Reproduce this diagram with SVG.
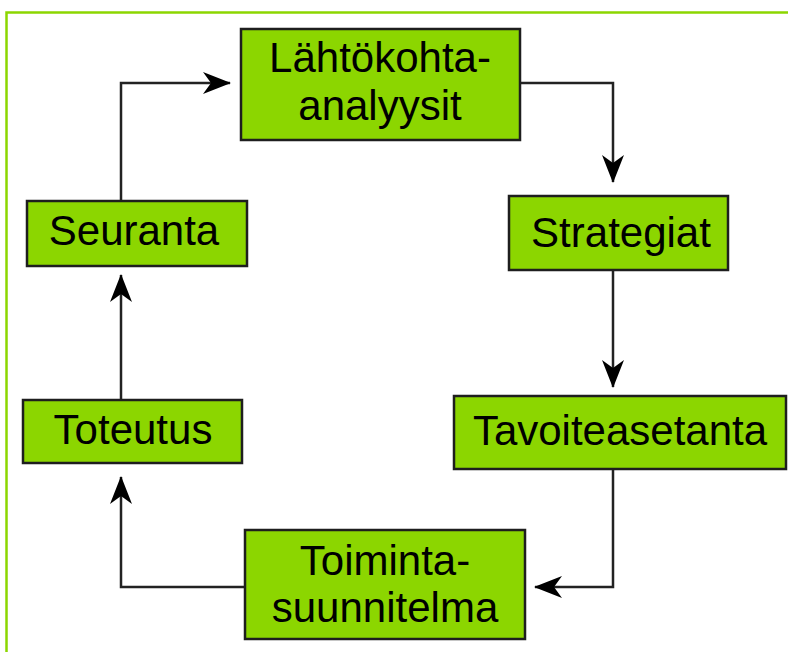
<svg xmlns="http://www.w3.org/2000/svg" width="788" height="652" viewBox="0 0 788 652">
<style>
.box{fill:#8cd600;stroke:#1e1e1e;stroke-width:2.5}
.lbl{font-family:"Liberation Sans",Arial,sans-serif;font-size:42px;fill:#000;text-anchor:middle}
.con{fill:none;stroke:#222;stroke-width:2.5}
</style>
<defs>
<marker id="arr" markerUnits="userSpaceOnUse" viewBox="0 0 28 22" refX="27" refY="11" markerWidth="28" markerHeight="22" orient="auto">
<path d="M0,0 L28,11 L0,22 L8,11 Z" fill="#000"/>
</marker>
</defs>
<rect x="6.5" y="12.5" width="800" height="700" fill="#fff" stroke="#8cd600" stroke-width="2.5"/>
<g id="connectors">
<path class="con" d="M121,201 V83 H230" marker-end="url(#arr)"/>
<path class="con" d="M520,83 H613 V182" marker-end="url(#arr)"/>
<path class="con" d="M613,270 V387" marker-end="url(#arr)"/>
<path class="con" d="M613,469 V587 H535" marker-end="url(#arr)"/>
<path class="con" d="M245,587 H121 V477" marker-end="url(#arr)"/>
<path class="con" d="M121,400 V275" marker-end="url(#arr)"/>
</g>
<g id="lahtokohta">
<rect class="box" x="241" y="29" width="279" height="111"/>
<text class="lbl" x="380" y="72">Lähtökohta-</text>
<text class="lbl" x="380" y="120">analyysit</text>
</g>
<g id="strategiat">
<rect class="box" x="509" y="196" width="219" height="74"/>
<text class="lbl" x="621" y="247">Strategiat</text>
</g>
<g id="tavoiteasetanta">
<rect class="box" x="454" y="396" width="332" height="73"/>
<text class="lbl" x="620" y="445">Tavoiteasetanta</text>
</g>
<g id="toimintasuunnitelma">
<rect class="box" x="245" y="530" width="280" height="109"/>
<text class="lbl" x="385" y="575">Toiminta-</text>
<text class="lbl" x="385" y="622">suunnitelma</text>
</g>
<g id="toteutus">
<rect class="box" x="23" y="400" width="219" height="63"/>
<text class="lbl" x="133" y="444">Toteutus</text>
</g>
<g id="seuranta">
<rect class="box" x="27" y="201" width="220" height="65"/>
<text class="lbl" x="134" y="245">Seuranta</text>
</g>
</svg>
